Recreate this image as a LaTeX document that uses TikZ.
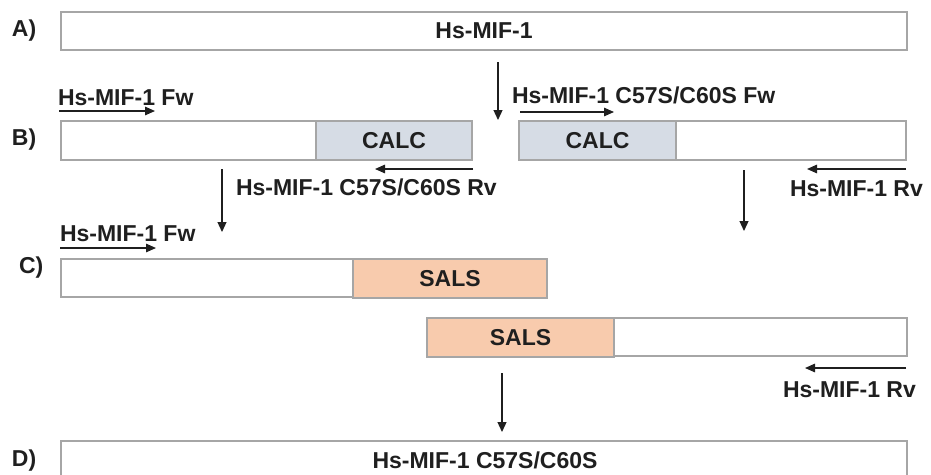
\documentclass[tikz,border=0pt]{standalone}
\usepackage{fontspec}
\setmainfont{Liberation Sans}
\usetikzlibrary{arrows.meta}
\definecolor{txt}{HTML}{1F1F1F}
\definecolor{edge}{HTML}{A6A6A6}
\definecolor{calc}{HTML}{D6DCE5}
\definecolor{sals}{HTML}{F8CBAD}
\begin{document}
\begin{tikzpicture}[x=1pt,y=-1pt,
  every node/.style={font=\fontsize{23}{27}\selectfont\bfseries, text=txt, inner sep=0pt, outer sep=0pt},
  seg/.style={draw=edge, line width=1.5pt, fill=white, anchor=north west, minimum height=#1},
  seg/.default=39pt,
  calcseg/.style={seg, fill=calc},
  salsseg/.style={seg, fill=sals},
  primer/.style={draw=txt, line width=1.4pt, -{Triangle[length=10pt,width=8.5pt]}},
  flow/.style={draw=txt, line width=1.2pt, -{Triangle[length=10pt,width=9pt]}},
  lab/.style={anchor=base west},
  labr/.style={anchor=base east}]
\useasboundingbox[fill=white] (0,0) rectangle (931,474);

% Row A
\node[seg=38pt, minimum width=846pt] (A) at (61,12) {Hs-MIF-1};
\node[anchor=west] (LA) at (12,31) {A)};

% Row B left
\node[seg, minimum width=255pt] (B1) at (61,121) {};
\node[calcseg, minimum width=156pt] (B2) at (316,121) {CALC};
% Row B right
\node[calcseg, minimum width=157pt] (B3) at (519,121) {CALC};
\node[seg, minimum width=230pt] (B4) at (676,121) {};
\node[anchor=west] (LB) at (12,140) {B)};

% B primers
\node[lab] (pB1) at (58,105) {Hs-MIF-1 Fw};
\coordinate (pB1s) at (59,111); \coordinate (pB1e) at (155,111);
\draw[primer] (pB1s) -- (pB1e);
\node[lab] (pB2) at (512,103) {Hs-MIF-1 C57S/C60S Fw};
\coordinate (pB2s) at (520,112); \coordinate (pB2e) at (614,112);
\draw[primer] (pB2s) -- (pB2e);
\node[lab] (pB3) at (236,195) {Hs-MIF-1 C57S/C60S Rv};
\coordinate (pB3s) at (473,169); \coordinate (pB3e) at (375,169);
\draw[primer] (pB3s) -- (pB3e);
\node[lab] (pB4) at (790,196) {Hs-MIF-1 Rv};
\coordinate (pB4s) at (906,169); \coordinate (pB4e) at (807,169);
\draw[primer] (pB4s) -- (pB4e);

% Row C
\node[seg=38pt, minimum width=292pt] (C1) at (61,259) {};
\node[salsseg=38pt, minimum width=194pt] (C2) at (353,259) {SALS};
\node[anchor=west] (LC) at (19,268) {C)};
\node[lab] (pC1) at (60,241) {Hs-MIF-1 Fw};
\coordinate (pC1s) at (60,248); \coordinate (pC1e) at (156,248);
\draw[primer] (pC1s) -- (pC1e);

\node[salsseg=38pt, minimum width=187pt] (C3) at (427,318) {SALS};
\node[seg=38pt, minimum width=293pt] (C4) at (614,318) {};
\node[lab] (pC2) at (783,397) {Hs-MIF-1 Rv};
\coordinate (pC2s) at (906,368); \coordinate (pC2e) at (805,368);
\draw[primer] (pC2s) -- (pC2e);

% Row D
\node[seg=40pt, minimum width=846pt] (D) at (61,441) {};
\node[anchor=base] (Dt) at (485,468) {Hs-MIF-1 C57S/C60S};
\node[anchor=west] (LD) at (12,461) {D)};

% Flow arrows
\coordinate (f1s) at (498,62); \coordinate (f1e) at (498,120);
\draw[flow] (f1s) -- (f1e);
\coordinate (f2s) at (222,169); \coordinate (f2e) at (222,232);
\draw[flow] (f2s) -- (f2e);
\coordinate (f3s) at (744,170); \coordinate (f3e) at (744,231);
\draw[flow] (f3s) -- (f3e);
\coordinate (f4s) at (502,373); \coordinate (f4e) at (502,432);
\draw[flow] (f4s) -- (f4e);
\end{tikzpicture}
\end{document}
